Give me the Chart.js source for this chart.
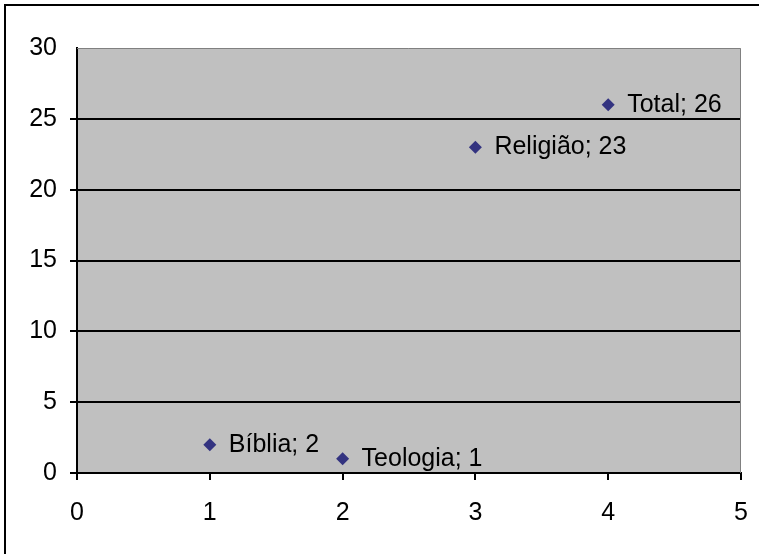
<!DOCTYPE html>
<html>
<head>
<meta charset="utf-8">
<script src="https://cdn.jsdelivr.net/npm/chart.js@4/dist/chart.umd.min.js"></script>
<style>
  html, body { margin: 0; padding: 0; background: #fff; }
  #wrap { width: 759px; height: 554px; position: relative; }
</style>
</head>
<body>
<div id="wrap"><canvas id="c" width="759" height="554"></canvas></div>
<script>
// data
const names = ["Bíblia", "Teologia", "Religião", "Total"];
const xVals = [1, 2, 3, 4];
const yVals = [2, 1, 23, 26];

const FONT = "'Liberation Sans', Arial, sans-serif";

// gray plot background, gray top/right edges, outer frame (left + top only)
const framePlugin = {
  id: "frame",
  beforeDraw(chart) {
    const {ctx, chartArea: a} = chart;
    ctx.save();
    ctx.fillStyle = "#fff";
    ctx.fillRect(0, 0, chart.width, chart.height);
    ctx.fillStyle = "#C0C0C0";
    ctx.fillRect(a.left, a.top, a.right - a.left, a.bottom - a.top);
    ctx.strokeStyle = "#000";
    ctx.lineWidth = 2;
    ctx.beginPath();
    ctx.moveTo(5, chart.height);
    ctx.lineTo(5, 5);
    ctx.lineTo(chart.width, 5);
    ctx.stroke();
    ctx.restore();
  },
  afterDatasetsDraw(chart) {
    const {ctx, chartArea: a} = chart;
    ctx.save();
    ctx.strokeStyle = "#808080";
    ctx.lineWidth = 1;
    ctx.beginPath();
    ctx.moveTo(a.left, a.top + 0.5);
    ctx.lineTo(a.right - 0.5, a.top + 0.5);
    ctx.lineTo(a.right - 0.5, a.bottom);
    ctx.stroke();
    // point labels
    const meta = chart.getDatasetMeta(0);
    ctx.fillStyle = "#000";
    ctx.font = "25px " + FONT;
    ctx.textBaseline = "middle";
    ctx.textAlign = "left";
    meta.data.forEach((pt, i) => {
      ctx.fillText(names[i] + "; " + yVals[i], pt.x + 19, pt.y);
    });
    ctx.restore();
  }
};

new Chart(document.getElementById("c"), {
  type: "scatter",
  data: {
    datasets: [{
      data: xVals.map((x, i) => ({x, y: yVals[i]})),
      pointStyle: "rectRot",
      pointRadius: 6.5,
      backgroundColor: "#333380",
      borderColor: "#333380",
      borderWidth: 0
    }]
  },
  options: {
    responsive: false,
    animation: false,
    layout: { padding: { top: 48, right: 18, bottom: 0, left: 0 } },
    plugins: { legend: { display: false }, tooltip: { enabled: false } },
    scales: {
      x: {
        type: "linear", min: 0, max: 5,
        ticks: { stepSize: 1, color: "#000", font: { family: FONT, size: 25 }, padding: 18, maxRotation: 0 },
        grid: { drawOnChartArea: false, drawTicks: true, tickLength: 7, color: "#000", lineWidth: 2 },
        border: { display: true, color: "#000", width: 2 },
        afterFit(s) { s.height = 81; s.paddingLeft = 0; s.paddingRight = 0; }
      },
      y: {
        type: "linear", min: 0, max: 30,
        ticks: { stepSize: 5, color: "#000", font: { family: FONT, size: 25 }, padding: 13 },
        grid: {
          tickLength: 7, lineWidth: 2,
          color: ctx => (ctx.tick && ctx.tick.value === 30) ? "rgba(0,0,0,0)" : "#000"
        },
        border: { display: true, color: "#000", width: 2 },
        afterFit(s) { s.width = 77; s.paddingTop = 0; s.paddingBottom = 0; }
      }
    }
  },
  plugins: [framePlugin]
});
</script>
</body>
</html>
